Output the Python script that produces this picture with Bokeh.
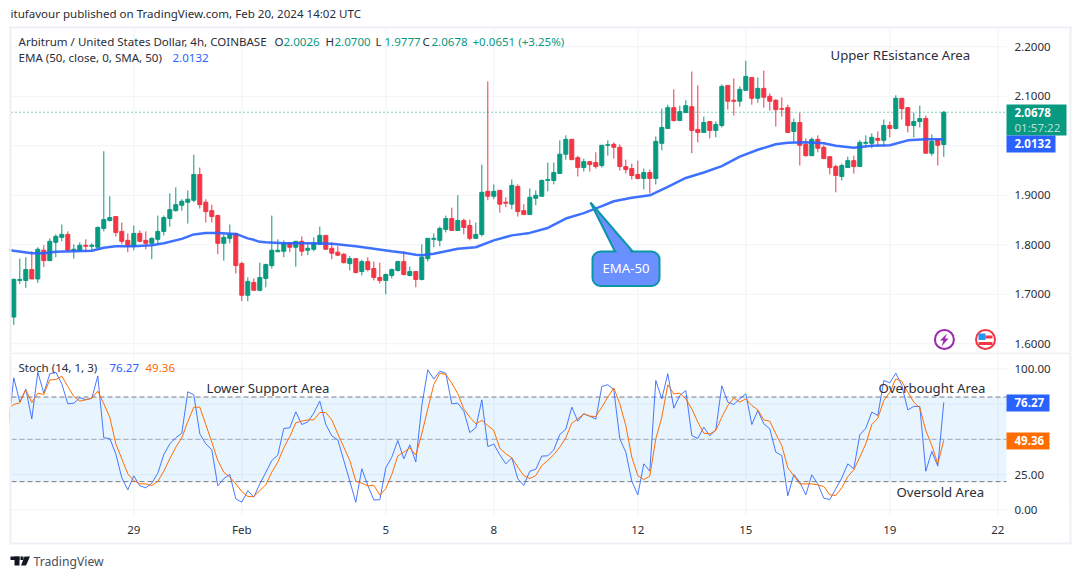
from bokeh.embed import file_html
from bokeh.layouts import column
from bokeh.models import (BoxAnnotation, ColumnDataSource, FixedTicker, Label, LinearAxis,
                          PolyAnnotation, PrintfTickFormatter, Range1d)
from bokeh.plotting import figure
from bokeh.resources import INLINE

opens = [1.654,1.728,1.728,1.750,1.731,1.789,1.768,1.805,1.815,1.821,
1.788,1.788,1.799,1.797,1.795,1.833,1.849,1.857,1.827,1.809,
1.797,1.823,1.809,1.803,1.811,1.827,1.853,1.869,1.880,1.886,
1.890,1.942,1.886,1.869,1.859,1.803,1.813,1.823,1.762,1.698,
1.724,1.708,1.732,1.758,1.786,1.787,1.803,1.795,1.807,1.789,
1.791,1.801,1.819,1.793,1.785,1.781,1.762,1.772,1.746,1.766,
1.752,1.734,1.728,1.738,1.748,1.766,1.738,1.746,1.730,1.772,
1.811,1.809,1.831,1.853,1.829,1.849,1.839,1.813,1.821,1.908,
1.898,1.910,1.886,1.882,1.918,1.869,1.861,1.894,1.898,1.930,
1.930,1.944,1.983,2.013,1.976,1.956,1.968,1.966,1.960,2.001,
2.003,1.997,1.958,1.954,1.942,1.934,1.946,1.934,2.005,2.035,
2.077,2.051,2.067,2.079,2.033,2.027,2.049,2.031,2.041,2.122,
2.092,2.090,2.112,2.138,2.096,2.116,2.100,2.092,2.075,2.077,
2.029,2.047,2.003,1.980,2.013,1.997,1.978,1.958,1.938,1.956,
1.970,1.958,2.005,2.005,2.015,2.011,2.041,2.035,2.096,2.077,
2.041,2.049,2.055,1.985,2.013,2.0026]
closes = [1.730,1.730,1.750,1.731,1.791,1.768,1.807,1.817,1.821,1.789,
1.791,1.799,1.797,1.799,1.835,1.851,1.855,1.825,1.807,1.797,
1.823,1.807,1.803,1.813,1.827,1.855,1.871,1.881,1.888,1.892,
1.942,1.881,1.867,1.857,1.803,1.815,1.821,1.758,1.698,1.726,
1.708,1.734,1.760,1.789,1.789,1.803,1.795,1.807,1.787,1.793,
1.803,1.819,1.791,1.783,1.779,1.764,1.772,1.744,1.766,1.750,
1.734,1.728,1.740,1.750,1.766,1.740,1.746,1.730,1.775,1.813,
1.813,1.833,1.853,1.829,1.849,1.835,1.813,1.821,1.906,1.898,
1.908,1.882,1.884,1.920,1.867,1.861,1.896,1.900,1.930,1.932,
1.946,1.983,2.013,1.972,1.956,1.968,1.962,1.958,2.001,2.002,
1.997,1.958,1.952,1.940,1.934,1.946,1.934,2.009,2.037,2.077,
2.051,2.069,2.081,2.031,2.027,2.047,2.031,2.043,2.120,2.090,
2.090,2.114,2.140,2.096,2.116,2.098,2.090,2.073,2.074,2.027,
2.047,2.001,1.980,2.013,1.995,1.974,1.956,1.940,1.960,1.970,
1.958,2.007,2.007,2.017,2.011,2.041,2.035,2.096,2.075,2.041,
2.049,2.055,1.985,2.009,2.001,2.0678]
highs = [1.732,1.772,1.775,1.787,1.795,1.799,1.813,1.821,1.841,1.827,
1.801,1.805,1.811,1.803,1.837,1.989,1.898,1.857,1.845,1.823,
1.839,1.829,1.827,1.815,1.859,1.859,1.904,1.916,1.892,1.910,
1.982,1.956,1.892,1.881,1.861,1.821,1.841,1.823,1.766,1.734,
1.732,1.764,1.762,1.859,1.811,1.809,1.805,1.807,1.817,1.803,
1.815,1.837,1.819,1.805,1.797,1.783,1.777,1.772,1.770,1.775,
1.766,1.764,1.742,1.752,1.768,1.787,1.756,1.746,1.801,1.813,
1.823,1.837,1.859,1.875,1.900,1.853,1.851,1.845,1.962,2.130,
1.922,1.910,1.896,1.932,1.922,1.882,1.914,1.910,1.932,1.966,
1.966,2.011,2.021,2.013,1.980,1.974,1.968,1.987,2.001,2.011,
2.007,2.003,1.972,1.964,1.970,1.954,1.952,2.019,2.075,2.083,
2.114,2.081,2.092,2.150,2.122,2.059,2.049,2.049,2.124,2.122,
2.136,2.120,2.172,2.138,2.138,2.152,2.106,2.094,2.098,2.083,
2.055,2.067,2.015,2.017,2.021,2.001,1.978,1.962,1.964,1.978,
1.980,2.011,2.021,2.025,2.029,2.053,2.049,2.102,2.096,2.077,
2.067,2.081,2.061,2.023,2.013,2.0700]
lows = [1.638,1.721,1.713,1.731,1.723,1.755,1.768,1.775,1.807,1.785,
1.772,1.787,1.785,1.788,1.791,1.827,1.847,1.817,1.801,1.785,
1.789,1.805,1.791,1.771,1.801,1.819,1.837,1.867,1.869,1.843,
1.886,1.873,1.845,1.845,1.781,1.768,1.803,1.742,1.686,1.686,
1.708,1.706,1.714,1.752,1.785,1.775,1.785,1.756,1.777,1.779,
1.787,1.801,1.791,1.771,1.777,1.762,1.748,1.742,1.738,1.746,
1.728,1.722,1.700,1.732,1.746,1.738,1.736,1.714,1.728,1.766,
1.795,1.797,1.825,1.829,1.829,1.821,1.809,1.813,1.817,1.890,
1.892,1.865,1.876,1.872,1.857,1.861,1.861,1.880,1.898,1.908,
1.922,1.944,1.972,1.972,1.938,1.948,1.948,1.954,1.956,1.980,
1.974,1.950,1.944,1.932,1.932,1.912,1.904,1.922,1.991,2.035,
2.049,2.051,2.067,1.985,2.007,2.027,2.015,2.017,2.037,2.073,
2.061,2.079,2.112,2.083,2.087,2.077,2.071,2.039,2.059,2.027,
2.007,1.960,1.978,1.980,1.987,1.974,1.942,1.906,1.930,1.956,
1.944,1.958,1.997,1.995,1.999,1.999,2.017,2.033,2.053,2.027,
2.017,2.037,1.985,1.980,1.960,1.9777]

ema_index = [0,1,4,6,8,11,14,16,18,21,24,26,29,31,33,35,38,40,41,42,43,46,51,54,58,61,64,66,68,69,71,73,75,78,81,
84,87,90,93,96,99,101,104,107,110,113,116,119,122,125,128,130,133,136,138,141,144,147,150,153,156]
ema_values = [1.790,1.788,1.783,1.783,1.786,1.787,1.788,1.794,1.797,1.797,1.799,1.803,1.812,1.821,1.824,1.824,1.822,1.813,
1.810,1.806,1.805,1.803,1.803,1.802,1.797,1.792,1.787,1.784,1.780,1.779,1.782,1.787,1.792,1.795,1.809,
1.819,1.824,1.834,1.853,1.864,1.878,1.888,1.895,1.900,1.917,1.935,1.946,1.959,1.978,1.992,2.003,2.006,2.007,2.005,
2.000,1.996,2.000,2.001,2.011,2.013,2.0132]

stoch_k = [56.0,
93.6,76.4,85.6,64.5,97.6,82.7,96.5,97.6,89.4,75.2,
75.6,79.4,78.2,79.0,95.0,51.1,50.6,39.7,22.7,14.2,
24.1,17.0,15.6,18.9,26.0,39.2,46.8,51.1,54.4,83.7,
81.6,53.9,46.8,42.6,17.0,22.2,25.1,7.8,5.4,13.7,
9.0,18.4,26.5,35.0,38.8,57.7,58.2,69.5,60.5,62.4,
68.6,77.1,60.5,52.5,49.6,35.0,20.3,5.4,29.1,17.3,
7.1,7.1,29.8,37.4,49.2,36.2,46.1,34.0,74.0,99.3,
92.7,98.3,96.9,75.2,75.6,70.0,54.8,58.2,78.0,44.9,
46.6,39.0,32.6,36.9,22.0,17.3,27.4,28.8,38.1,38.3,
42.6,53.4,57.2,72.8,62.9,68.1,66.4,64.3,87.5,88.7,
85.1,50.4,40.9,20.3,10.6,32.6,27.4,91.7,78.7,96.5,
72.1,81.1,84.6,52.7,50.6,58.6,52.5,56.7,87.9,76.4,
74.7,78.7,82.3,60.5,70.4,61.0,57.4,40.9,38.5,9.9,
25.1,19.6,10.6,24.8,18.4,8.3,7.3,14.9,22.7,32.6,
29.1,53.2,57.9,69.3,66.9,91.7,90.1,96.9,88.2,70.9,
73.3,73.3,27.4,41.4,31.0,76.27]
stoch_d = [71.0,
74.7,75.9,85.1,76.1,82.7,81.8,92.2,92.4,94.8,87.5,
80.4,77.1,78.0,79.2,84.2,75.2,65.7,46.8,36.2,25.5,
20.8,18.4,18.4,17.3,20.1,27.4,36.2,44.4,51.1,62.6,
72.8,72.8,60.5,48.0,35.0,26.7,23.2,18.4,13.0,9.5,
9.5,13.7,17.7,26.7,33.8,44.0,52.0,61.7,62.9,63.8,
63.8,69.0,69.0,63.8,53.9,44.4,35.0,20.3,18.9,17.0,
17.5,10.4,15.1,25.1,38.3,40.9,44.0,38.8,53.9,71.6,
88.9,96.9,96.0,89.8,82.3,71.6,65.7,61.0,63.4,59.8,
56.3,43.7,39.7,36.9,30.3,24.3,22.2,24.3,31.4,35.0,
39.2,44.4,51.1,61.5,64.5,68.1,66.4,66.2,72.8,79.9,
86.5,75.2,59.8,37.4,24.3,21.5,23.9,50.4,65.7,88.7,
82.3,82.7,78.7,71.6,62.2,54.4,53.9,56.3,65.7,74.0,
79.4,76.4,78.7,74.0,70.9,63.8,62.9,53.9,45.6,29.8,
24.3,18.4,18.4,18.4,17.7,16.5,10.6,10.2,15.6,23.6,
28.4,37.4,46.8,60.5,65.0,77.5,83.4,92.9,91.2,83.4,
76.4,72.3,56.3,45.6,32.6,49.36]

price_ticks = [1.6, 1.7, 1.8, 1.9, 2.0, 2.1, 2.2]
stoch_grid = [0, 25, 50, 75, 100]
stoch_ticks = [0, 25, 100]
date_ticks = [21, 39, 63, 81, 105, 123, 147, 165]
date_labels = ["29", "Feb", "5", "8", "12", "15", "19", "22"]

UP, DOWN = "#089981", "#f23645"
BLUE, ORANGE = "#2962ff", "#ff6d00"
GRID, BORDER = "#f0f3fa", "#eef0f6"
FONT = "Noto Sans"
TEXT = "#2a2e39"
S12, S14 = "11.55px", "13.2px"
WIDTH, TOP_H, BOT_H = 1072, 352, 223
TOP_Y, BOT_Y = 0, 352
X_VIEW = (-1.2167, 177.45)     # whole canvas width
X_LEFT, X_RIGHT = 0.617, 166.45  # the chart's plotting area


def make(height, y_view):
    p = figure(width=WIDTH, height=height, output_backend="svg", toolbar_location=None,
               x_range=Range1d(*X_VIEW), y_range=Range1d(*y_view),
               x_axis_location=None, y_axis_location=None,
               min_border=0, outline_line_color=None,
               background_fill_color="white", border_fill_color="white")
    p.grid.visible = False
    return p


def style_axis(ax, standoff):
    ax.axis_line_color = None
    ax.major_tick_line_color = None
    ax.minor_tick_line_color = None
    ax.major_tick_out = 0
    ax.major_tick_in = 0
    ax.major_label_standoff = standoff
    ax.major_label_text_font = FONT
    ax.major_label_text_font_size = S12
    ax.major_label_text_color = TEXT


def box(p, top0, x0, x1, y0, y1, color, **kw):
    h = p.height
    p.add_layout(BoxAnnotation(left=x0, right=x1, top=h - (y0 - top0), bottom=h - (y1 - top0),
                               left_units="screen", right_units="screen", top_units="screen",
                               bottom_units="screen", fill_color=color, fill_alpha=1,
                               line_color=kw.pop("line_color", None), line_alpha=1,
                               level="overlay", **kw))


def poly(p, top0, xs, ys, color, **kw):
    h = p.height
    p.add_layout(PolyAnnotation(xs=list(xs), ys=[h - (v - top0) for v in ys],
                                xs_units="screen", ys_units="screen", fill_color=color, fill_alpha=1,
                                line_color=kw.pop("line_color", None), line_alpha=1,
                                level="overlay", **kw))


def text(p, top0, x, y, s, color=TEXT, size=S12, align="left", weight="normal"):
    p.add_layout(Label(x=x, y=p.height - (y - 1 - top0), x_units="screen", y_units="screen", text=s,
                       text_color=color, text_font=FONT, text_font_size=size,
                       text_align=align, text_baseline="middle", text_font_style=weight,
                       level="overlay"))


# ---- price pane
PRICE_TOP, PRICE_BOTTOM = 2.237, 1.5824
price = make(TOP_H, (1.5824, 2.2935))
price_axis = LinearAxis(fixed_location=X_RIGHT, ticker=FixedTicker(ticks=price_ticks),
                        formatter=PrintfTickFormatter(format="%.4f"))
style_axis(price_axis, 8)
price.add_layout(price_axis, "right")
price.segment(date_ticks, [PRICE_BOTTOM] * len(date_ticks), date_ticks, [PRICE_TOP] * len(date_ticks),
              line_color=GRID, line_width=1)
price.segment([X_LEFT] * len(price_ticks), price_ticks, [X_RIGHT] * len(price_ticks), price_ticks,
              line_color=GRID, line_width=1)

idx = list(range(1, len(opens) + 1))
colors = [UP if c >= o else DOWN for o, c in zip(opens, closes)]
src = ColumnDataSource(dict(x=idx, high=highs, low=lows, top=[max(o, c) for o, c in zip(opens, closes)],
                            bottom=[min(o, c) for o, c in zip(opens, closes)], color=colors))
price.segment("x", "low", "x", "high", source=src, color="color", line_width=1)
price.vbar("x", 0.67, "top", "bottom", source=src, fill_color="color", line_color="color", line_width=1)
price.line(ema_index, ema_values, line_color=BLUE, line_width=2.5, line_alpha=0.9)
price.line([X_LEFT, X_RIGHT], [closes[-1], closes[-1]], line_color=UP, line_width=1, line_dash=[1, 3])

# frame around the chart
box(price, TOP_Y, 0, 9, 28, 352, "white")
box(price, TOP_Y, 9, 11, 26, 352, BORDER)
box(price, TOP_Y, 9, 1071, 26, 28, BORDER)
box(price, TOP_Y, 1069, 1071, 26, 352, BORDER)

# header and legends
text(price, TOP_Y, 10, 14, "itufavour published on TradingView.com, Feb 20, 2024 14:02 UTC")
text(price, TOP_Y, 18, 42, "Arbitrum / United States Dollar, 4h, COINBASE")
for x, head, value in [(274, "O", "2.0026"), (325, "H", "2.0700"), (375, "L", "1.9777"), (422, "C", "2.0678")]:
    text(price, TOP_Y, x, 42, head)
    text(price, TOP_Y, x + 9, 42, value, UP)
text(price, TOP_Y, 472, 42, "+0.0651 (+3.25%)", UP)
text(price, TOP_Y, 18, 58, "EMA (50, close, 0, SMA, 50)")
text(price, TOP_Y, 172, 58, "2.0132", BLUE)
text(price, TOP_Y, 830, 55, "Upper REsistance Area", TEXT, S14)

# price tags
box(price, TOP_Y, 1006, 1066, 104, 135, UP)
box(price, TOP_Y, 1006, 1055, 135, 152, BLUE)
text(price, TOP_Y, 1014, 113, "2.0678", "white", S12, weight="bold")
text(price, TOP_Y, 1014, 127.5, "01:57:22", "#b5e0d8", S12)
text(price, TOP_Y, 1014, 144, "2.0132", "white", S12, weight="bold")

# EMA-50 callout
CALL, CALL_LINE = "#6a8fff", "#0a97a6"
poly(price, TOP_Y, [590, 615, 633], [202, 252, 252], CALL, line_color=CALL_LINE, line_width=2)
box(price, TOP_Y, 592, 659, 251, 285.5, CALL, line_color=CALL_LINE, line_width=2, border_radius=8)
poly(price, TOP_Y, [612, 617, 631, 624.5], [243, 253, 253, 243], CALL)
text(price, TOP_Y, 625.5, 268, "EMA-50", "white", S14, "center")

# event markers
price.scatter([156.1], [1.6087], size=19, fill_color="white", line_color="#9c27b0", line_width=2)
poly(price, TOP_Y, [946.5, 939.5, 943, 941, 948, 944.5], [333, 340, 340, 346, 338, 338], "#9c27b0")
price.scatter([162.95], [1.6087], size=19, fill_color="white", line_color="#f23645", line_width=2)
box(price, TOP_Y, 978, 985, 333, 339.5, "#2196f3")
box(price, TOP_Y, 985, 992, 335, 338, "#f23645")
box(price, TOP_Y, 978, 992, 341.5, 344.5, "#f23645")

# ---- stochastic pane
STOCH_TOP, STOCH_BOTTOM = 110.9, -4.7
stoch = make(BOT_H, (-46.57, 111.58))
stoch_axis = LinearAxis(fixed_location=X_RIGHT, ticker=FixedTicker(ticks=stoch_ticks),
                        formatter=PrintfTickFormatter(format="%.2f"))
style_axis(stoch_axis, 8)
stoch.add_layout(stoch_axis, "right")
stoch.segment(date_ticks, [STOCH_BOTTOM] * len(date_ticks), date_ticks, [STOCH_TOP] * len(date_ticks),
              line_color=GRID, line_width=1)
stoch.segment([X_LEFT] * len(stoch_grid), stoch_grid, [X_RIGHT] * len(stoch_grid), stoch_grid,
              line_color=GRID, line_width=1)
stoch.quad(left=[X_LEFT], right=[X_RIGHT], bottom=[20], top=[80], fill_color="#2196f3", fill_alpha=0.1,
           line_color=None)
for level, alpha in [(80, 1.0), (50, 0.6), (20, 1.0)]:
    stoch.line([X_LEFT, X_RIGHT], [level, level], line_color="#787b86", line_alpha=alpha,
               line_width=1, line_dash=[5, 3])
stoch_x = list(range(0, len(stoch_k)))
stoch.line(stoch_x, stoch_k, line_color=BLUE, line_width=1, line_alpha=0.85)
stoch.line(stoch_x, stoch_d, line_color=ORANGE, line_width=1)

date_axis = LinearAxis(fixed_location=STOCH_BOTTOM, ticker=FixedTicker(ticks=date_ticks),
                       major_label_overrides=dict(zip(date_ticks, date_labels)))
style_axis(date_axis, 6)
stoch.add_layout(date_axis, "below")

box(stoch, BOT_Y, 0, 9, 352, 520, "white")
box(stoch, BOT_Y, 9, 1071, 352, 353, "#e0e3eb")
box(stoch, BOT_Y, 9, 11, 353, 544, BORDER)
box(stoch, BOT_Y, 1069, 1071, 353, 544, BORDER)
box(stoch, BOT_Y, 9, 1071, 542, 544, BORDER)

text(stoch, BOT_Y, 18, 368, "Stoch (14, 1, 3)")
text(stoch, BOT_Y, 109, 368, "76.27", BLUE)
text(stoch, BOT_Y, 145, 368, "49.36", ORANGE)
text(stoch, BOT_Y, 206, 388, "Lower Support Area", TEXT, S14)
text(stoch, BOT_Y, 878, 388, "Overbought Area", TEXT, S14)
text(stoch, BOT_Y, 896, 492, "Oversold Area", TEXT, S14)

box(stoch, BOT_Y, 1006, 1049, 394, 411, BLUE)
box(stoch, BOT_Y, 1006, 1049, 432, 449, ORANGE)
text(stoch, BOT_Y, 1014, 403, "76.27", "white", S12, weight="bold")
text(stoch, BOT_Y, 1014, 441, "49.36", "white", S12, weight="bold")

# footer logo
LOGO = "#131722"
box(stoch, BOT_Y, 10, 19, 556, 559.5, LOGO)
box(stoch, BOT_Y, 14, 19, 556, 565, LOGO)
box(stoch, BOT_Y, 20, 23, 556, 559.5, LOGO)
poly(stoch, BOT_Y, [29.5, 25.5, 20.5, 24], [556, 565, 565, 556], LOGO)
text(stoch, BOT_Y, 33, 561.5, "TradingView", "#4a4e5a", "12.2px")

page = column(price, stoch, spacing=0)
open("out.html", "w").write(file_html(page, INLINE))
